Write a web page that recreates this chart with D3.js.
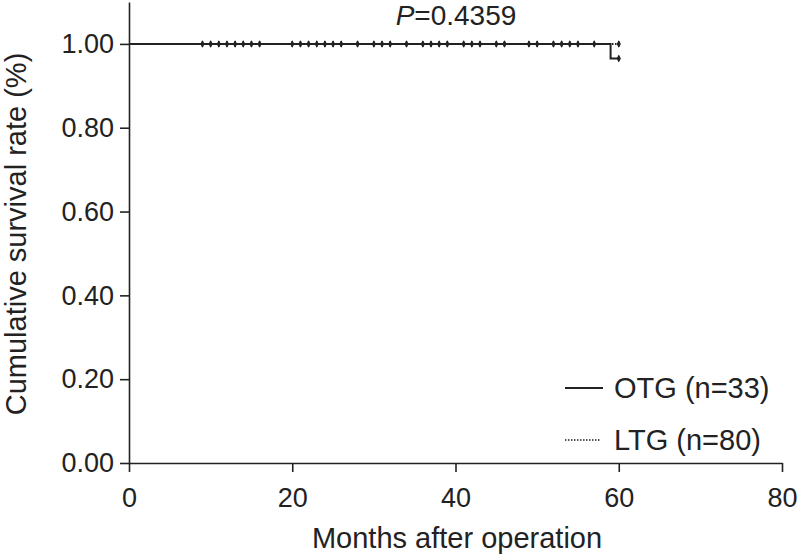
<!DOCTYPE html>
<html>
<head>
<meta charset="utf-8">
<script src="https://cdn.jsdelivr.net/npm/d3@7/dist/d3.min.js"></script>
<style>
  html, body { margin: 0; padding: 0; background: #fff; }
  svg { display: block; }
  text { font-family: "Liberation Sans", Arial, sans-serif; fill: #222; }
</style>
</head>
<body>
<svg id="chart" width="800" height="556"></svg>
<script>
// ---- data ----
const xTicks = [0, 20, 40, 60, 80];
const yTicks = [0, 0.2, 0.4, 0.6, 0.8, 1.0];
const yTickLabels = ["0.00", "0.20", "0.40", "0.60", "0.80", "1.00"];
// Kaplan-Meier step points [month, survival]
const otgSteps = [[0, 1.0], [59, 1.0], [59, 0.965], [60, 0.965]];
const otgCensor = [60];
const ltgSteps = [[0, 1.0], [60, 1.0]];
const ltgCensor = [9, 10, 11, 12, 13, 14, 15, 16, 20, 21, 22, 23, 24, 25, 26, 28,
                   30, 31, 32, 34, 36, 37, 38, 39, 41, 42, 43, 45, 46, 49, 50,
                   52, 53, 54, 55, 57, 60];
const legendLabels = ["OTG (n=33)", "LTG (n=80)"];
const pValue = "0.4359";

// ---- layout ----
const svg = d3.select("#chart");
const x = d3.scaleLinear().domain([0, 80]).range([129, 782]);
const y = d3.scaleLinear().domain([0, 1.1]).range([463, 2]);
const ink = "#222";
const FONT = "Liberation Sans, Arial, sans-serif";

// axes
const xAxis = d3.axisBottom(x).tickValues(xTicks).tickSize(9).tickSizeOuter(0);
const gx = svg.append("g").attr("transform", `translate(0,${y(0)})`).call(xAxis);
gx.select(".domain").attr("stroke", ink).attr("stroke-width", 1.6);
gx.selectAll(".tick line").attr("stroke", ink).attr("stroke-width", 1.6);
gx.selectAll(".tick text").attr("font-size", 27).attr("fill", ink)
  .attr("font-family", FONT).attr("y", 44).attr("dy", null);

const yAxis = d3.axisLeft(y).tickValues(yTicks).tickSize(9).tickSizeOuter(0).tickPadding(6)
  .tickFormat((d, i) => yTickLabels[i]);
const gy = svg.append("g").attr("transform", `translate(${x(0)},0)`).call(yAxis);
gy.select(".domain").attr("stroke", ink).attr("stroke-width", 1.6);
gy.selectAll(".tick line").attr("stroke", ink).attr("stroke-width", 1.6);
gy.selectAll(".tick text").attr("font-size", 27).attr("fill", ink)
  .attr("font-family", FONT).attr("x", -15);

// axis titles
svg.append("text").attr("x", 457).attr("y", 548).attr("text-anchor", "middle")
  .attr("font-size", 29).text("Months after operation");
svg.append("text").attr("transform", `translate(26,${234}) rotate(-90)`)
  .attr("text-anchor", "middle").attr("font-size", 29).text("Cumulative survival rate (%)");

// p value
const pt = svg.append("text").attr("x", 456).attr("y", 25).attr("text-anchor", "middle").attr("font-size", 28);
pt.append("tspan").attr("font-style", "italic").text("P");
pt.append("tspan").text("=" + pValue);

// curves
const line = d3.line().x(d => x(d[0])).y(d => y(d[1]));
svg.append("path").datum(ltgSteps).attr("d", line).attr("fill", "none")
  .attr("stroke", ink).attr("stroke-width", 2).attr("stroke-dasharray", "1.5,1.5");
svg.append("path").datum(otgSteps).attr("d", line).attr("fill", "none")
  .attr("stroke", ink).attr("stroke-width", 2);

// censor marks
function censorMarks(times, surv) {
  const g = svg.append("g");
  times.forEach(t => {
    g.append("line").attr("x1", x(t)).attr("x2", x(t))
      .attr("y1", y(surv) - 3).attr("y2", y(surv) + 3)
      .attr("stroke", ink).attr("stroke-width", 1.5);
    g.append("path").attr("d", d3.symbol().type(d3.symbolDiamond).size(16)())
      .attr("transform", `translate(${x(t)},${y(surv)})`).attr("fill", ink);
  });
}
censorMarks(ltgCensor, 1.0);
censorMarks(otgCensor, 0.965);

// legend
const lg = svg.append("g");
lg.append("line").attr("x1", 565).attr("x2", 603).attr("y1", 388).attr("y2", 388)
  .attr("stroke", ink).attr("stroke-width", 2);
lg.append("text").attr("x", 614).attr("y", 398).attr("font-size", 29).text(legendLabels[0]);
lg.append("line").attr("x1", 565).attr("x2", 601).attr("y1", 440).attr("y2", 440)
  .attr("stroke", ink).attr("stroke-width", 1.5).attr("stroke-dasharray", "1.5,1.5");
lg.append("text").attr("x", 614).attr("y", 450).attr("font-size", 29).text(legendLabels[1]);
</script>
</body>
</html>
